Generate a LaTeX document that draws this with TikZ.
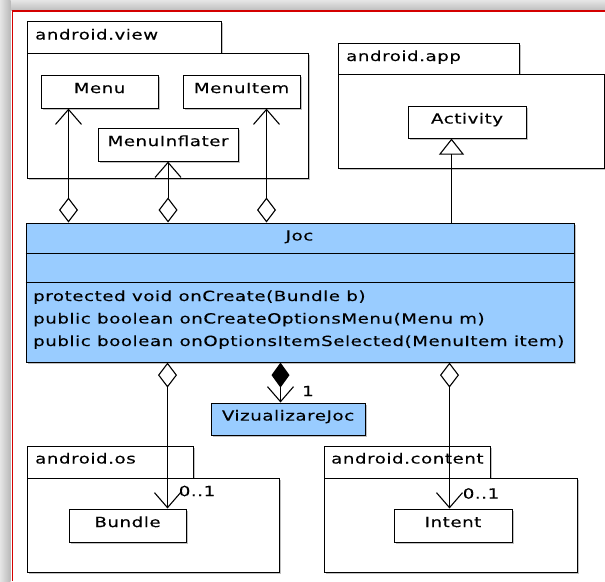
\documentclass[tikz,border=0pt]{standalone}
\usepackage{fontspec}
\setmainfont[FakeStretch=1.3, LetterSpace=4, FakeBold=0.2]{DejaVu Sans}
\usetikzlibrary{arrows.meta, shadows, calc}

\definecolor{classblue}{RGB}{153,204,255}
\definecolor{framered}{RGB}{212,0,0}

\begin{document}
\begin{tikzpicture}[x=1pt, y=-1pt,
  font=\fontsize{14}{16}\selectfont,
  boxshadow/.style={drop shadow={shadow xshift=1.6pt, shadow yshift=-1.6pt, opacity=0.4, fill=black!60}},
  pkg/.style={draw, line width=1.1pt, fill=white, anchor=north west, inner sep=0pt, boxshadow},
  umlclass/.style={pkg, text height=8pt, text depth=5pt},
  blueclass/.style={umlclass, fill=classblue},
  pkglabel/.style={anchor=base west, inner sep=0pt},
  methodtext/.style={anchor=base west, inner sep=0pt},
  multlabel/.style={anchor=center, inner sep=0pt},
  aggr/.style={line width=1.1pt, {Diamond[open, length=25pt, width=19pt]}-{Straight Barb[length=15pt, width=26pt]}},
  compo/.style={line width=1.1pt, {Diamond[length=25pt, width=18pt]}-{Straight Barb[length=15pt, width=26pt]}},
  gen/.style={line width=1.1pt, -{Triangle[open, length=16pt, width=25pt]}}
]
\useasboundingbox (0,0) rectangle (605,581);
\fill[white] (0,0) rectangle (605,581);

% window edge shading and red frame
\shade[top color=gray!20, bottom color=gray!50] (0,0) rectangle (605,10);
\shade[left color=gray!20, right color=gray!55] (0,0) rectangle (10.5,581);
\draw[framered, line width=1.6pt] (12.5,581) -- (12.5,11) -- (605,11);

% packages
\node[pkg, minimum width=194pt, minimum height=32pt] (viewtab) at (26.5,20.5) {};
\node[pkg, minimum width=281pt, minimum height=125pt] (viewbody) at (26.5,52.5) {};
\node[pkglabel] (viewlbl) at (35,39.5) {android.view};

\node[pkg, minimum width=181pt, minimum height=31pt] (apptab) at (337.5,42.5) {};
\node[pkg, minimum width=266pt, minimum height=94pt] (appbody) at (337.5,73.5) {};
\node[pkglabel] (applbl) at (346,61) {android.app};

\node[pkg, minimum width=166pt, minimum height=32pt] (ostab) at (26.5,445.5) {};
\node[pkg, minimum width=252pt, minimum height=94pt] (osbody) at (26.5,477.5) {};
\node[pkglabel] (oslbl) at (35,463.5) {android.os};

\node[pkg, minimum width=166pt, minimum height=32pt] (contab) at (323.5,445.5) {};
\node[pkg, minimum width=253pt, minimum height=94pt] (conbody) at (323.5,477.5) {};
\node[pkglabel] (conlbl) at (331,463.5) {android.content};

% classes
\node[umlclass, minimum width=117pt, minimum height=33pt] (menu) at (40.5,74.5) {Menu};
\node[umlclass, minimum width=117pt, minimum height=33pt] (menuitem) at (182.5,74.5) {MenuItem};
\node[umlclass, minimum width=140pt, minimum height=33pt] (inflater) at (97.5,127.5) {MenuInflater};
\node[umlclass, minimum width=118pt, minimum height=32pt] (activity) at (407.5,105.5) {Activity};
\node[umlclass, minimum width=117pt, minimum height=33pt] (bundle) at (68.5,508.5) {Bundle};
\node[umlclass, minimum width=118pt, minimum height=33pt] (intent) at (393.5,508.5) {Intent};
\node[blueclass, minimum width=154pt, minimum height=32pt] (vjoc) at (210.5,402.5) {VizualizareJoc};

% class Joc with its compartments
\node[pkg, fill=classblue, minimum width=548pt, minimum height=139pt] (joc) at (25.5,222.5) {};
\coordinate (div1) at (0,253.5);
\coordinate (div2) at (0,282.5);
\draw[line width=1.1pt] (joc.west |- div1) -- (joc.east |- div1);
\draw[line width=1.1pt] (joc.west |- div2) -- (joc.east |- div2);
\node[anchor=base, inner sep=0pt] (jocname) at (299.5,240.5) {Joc};
\node[methodtext] (m1) at (33,301) {protected void onCreate(Bundle b)};
\node[methodtext] (m2) at (33,323.5) {public boolean onCreateOptionsMenu(Menu m)};
\node[methodtext] (m3) at (33,346) {public boolean onOptionsItemSelected(MenuItem item)};

% connector end points on the target classes
\coordinate (pmenu) at ($(menu.south west)+(28,0)$);
\coordinate (pinfl) at (inflater.south);
\coordinate (pitem) at ($(menuitem.south west)+(84,0)$);
\coordinate (pact) at ($(activity.south west)+(44,0)$);
\coordinate (pbund) at ($(bundle.north west)+(99,0)$);
\coordinate (pint) at ($(intent.north west)+(56,0)$);
\coordinate (pviz) at ($(vjoc.north west)+(70,0)$);

% associations
\draw[aggr] (joc.north -| pmenu) -- (pmenu);
\draw[aggr] (joc.north -| pinfl) -- (pinfl);
\draw[aggr] (joc.north -| pitem) -- (pitem);
\draw[gen] (joc.north -| pact) -- (pact);
\draw[aggr] (joc.south -| pbund) -- (pbund);
\draw[aggr] (joc.south -| pint) -- (pint);
\draw[compo] (joc.south -| pviz) -- (pviz);

% multiplicities
\node[multlabel] (mviz) at (308,391) {1};
\node[multlabel] (mbund) at (197,491) {0..1};
\node[multlabel] (mint) at (481,493.5) {0..1};
\end{tikzpicture}
\end{document}
